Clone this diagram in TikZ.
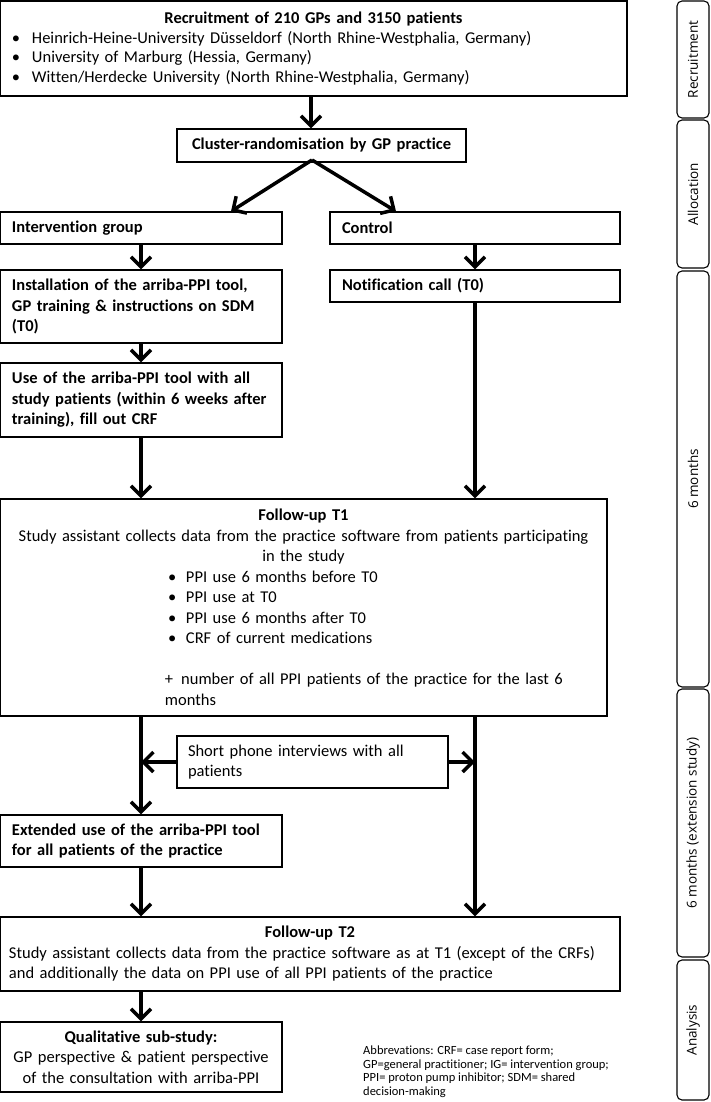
\documentclass[tikz,border=0pt]{standalone}
\usepackage{fontspec}
\setmainfont{Carlito}[Ligatures=NoCommon]
\newfontfamily\labfont{Open Sans}
\usetikzlibrary{arrows.meta,calc}
\tikzset{
  box/.style={draw, line width=1.3pt, inner xsep=12pt, inner ysep=0pt, font=\fontsize{16.5}{20.5}\selectfont, anchor=center},
  arr/.style={line width=3.5pt, -{Straight Barb[length=10pt,width=20pt]}},
  lab/.style={draw, line width=1.1pt, rounded corners=5pt, rotate=90, minimum height=32pt, inner sep=0pt, font=\labfont\fontsize{13.5}{16}\selectfont},
}
\newcommand{\bul}[1]{\makebox[#1][l]{•}}
\begin{document}
\begin{tikzpicture}[x=1pt,y=-1pt]
\useasboundingbox (0,0) rectangle (710,1102);
% boxes
\node[box, minimum width=627pt, text width=603pt, minimum height=95pt, font=\fontsize{16.5}{19.5}\selectfont] (rec) at (313.5,48.5)
 {{\centering\textbf{Recruitment of 210 GPs and 3150 patients}\par}
  \bul{20pt}\mbox{Heinrich-Heine-University Düsseldorf (North Rhine-Westphalia, Germany)}\par
  \bul{20pt}University of Marburg (Hessia, Germany)\par
  \bul{20pt}\mbox{Witten/Herdecke University (North Rhine-Westphalia, Germany)}};
\node[box, minimum width=289pt, text width=265pt, minimum height=33pt] (clu) at (321.5,145.5)
 {{\centering\textbf{Cluster-randomisation by GP practice}\par}};
\node[box, minimum width=282pt, text width=258pt, minimum height=32pt] (int) at (141,228)
 {\textbf{Intervention group}};
\node[box, minimum width=290pt, text width=266pt, minimum height=32pt] (con) at (475,228)
 {\textbf{Control}};
\node[box, minimum width=282pt, text width=258pt, minimum height=73pt] (ins) at (141,306.5)
 {\textbf{\mbox{Installation of the arriba-PPI tool,}\\\mbox{GP training \& instructions on SDM}\\(T0)}};
\node[box, minimum width=290pt, text width=266pt, minimum height=32pt] (noti) at (475,286)
 {\textbf{Notification call (T0)}};
\node[box, minimum width=282pt, text width=258pt, minimum height=74pt] (use) at (141,400)
 {\textbf{\mbox{Use of the arriba-PPI tool with all}\\\mbox{study patients (within 6 weeks after}\\\mbox{training), fill out CRF}}};
\node[box, minimum width=607pt, text width=583pt, minimum height=217pt] (t1) at (303.5,607.5)
 {{\centering\textbf{Follow-up T1}\\\mbox{Study assistant collects data from the practice software from patients participating}\\in the study\par}
  {\leftskip=156pt
  \bul{18pt}PPI use 6 months before T0\par
  \bul{18pt}PPI use at T0\par
  \bul{18pt}PPI use 6 months after T0\par
  \bul{18pt}CRF of current medications\par}
  \mbox{}\par
  {\leftskip=153pt
  \mbox{+\hspace{8pt}number of all PPI patients of the practice for the last 6}\\months\par}};
\node[box, inner xsep=11pt, minimum width=271pt, text width=249pt, minimum height=52pt] (sp) at (312.5,762)
 {Short phone interviews with all\\patients};
\node[box, minimum width=282pt, text width=258pt, minimum height=52pt] (ext) at (141,841)
 {\textbf{\mbox{Extended use of the arriba-PPI tool}\\for all patients of the practice}};
\node[box, inner xsep=9pt, minimum width=620pt, text width=602pt, minimum height=74pt] (t2) at (310,954)
 {{\centering\textbf{Follow-up T2}\par}
  \mbox{Study assistant collects data from the practice software as at T1 (except of the CRFs)}\\\mbox{and additionally the data on PPI use of all PPI patients of the practice}};
\node[box, minimum width=282pt, text width=258pt, minimum height=70pt] (qual) at (141,1057)
 {{\centering\textbf{Qualitative sub-study:}\\\mbox{GP perspective \& patient perspective}\\\mbox{of the consultation with arriba-PPI}\par}};
\node[anchor=north west, inner sep=0pt, align=left, font=\fontsize{12.5}{13.5}\selectfont] (abb) at (363,1046)
 {Abbrevations: CRF= case report form;\\GP=general practitioner; IG= intervention group;\\PPI= proton pump inhibitor; SDM= shared\\decision-making};
% side labels
\node[lab, minimum width=117pt] (l1) at (693,59.5) {Recruitment};
\node[lab, minimum width=148pt] (l2) at (693,194) {Allocation};
\node[lab, minimum width=416pt] (l3) at (693,479) {6 months};
\node[lab, minimum width=268pt] (l4) at (693,823) {6 months (extension study)};
\node[lab, minimum width=140pt] (l5) at (693,1030) {Analysis};
% arrows
\coordinate (xa) at (311,0);
\coordinate (cs) at (312,160);
\draw[arr] (rec.south -| xa) -- (clu.north -| xa);
\draw[arr] (cs) -- (int.north -| 231,0);
\draw[arr] (cs) -- (con.north -| 396,0);
\draw[arr] (int.south) -- (ins.north);
\draw[arr] (con.south) -- (noti.north);
\draw[arr] (ins.south) -- (use.north);
\draw[arr] (use.south) -- (use.south |- t1.north);
\draw[arr] (noti.south) -- (noti.south |- t1.north);
\draw[arr] (t1.south -| ext.north) -- (ext.north);
\draw[arr] (t1.south -| noti.south) -- (t2.north -| noti.south);
\draw[arr] (sp.west) -- (sp.west -| ext.north);
\draw[arr] (sp.east) -- (sp.east -| noti.south);
\draw[arr] (ext.south) -- (ext.south |- t2.north);
\draw[arr] (t2.south -| qual.north) -- (qual.north);
\end{tikzpicture}
\end{document}
